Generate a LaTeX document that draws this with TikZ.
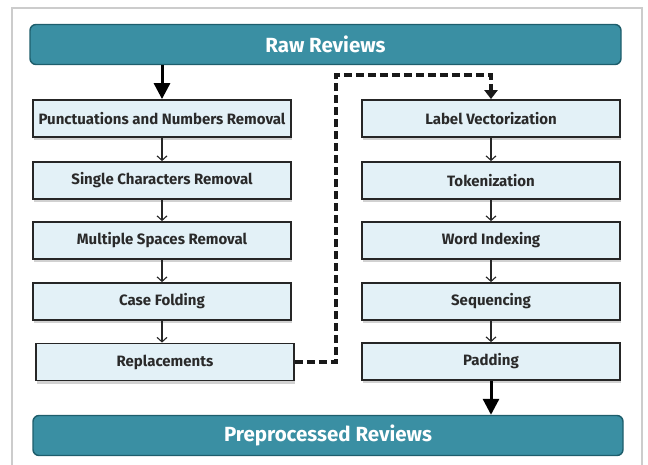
\documentclass[tikz,border=0pt]{standalone}
\usepackage{fontspec}
\setmainfont{Fira Sans}
\usetikzlibrary{arrows.meta,shadows}

\definecolor{barteal}{HTML}{3A8FA3}
\definecolor{bardark}{HTML}{1E5E6C}
\definecolor{stepfill}{HTML}{E3F1F7}
\definecolor{steptext}{HTML}{2A2A2A}

\tikzset{
  bar/.style={draw=bardark,line width=1.4pt,fill=barteal,rounded corners=6pt,
    text=white,font=\fontsize{20.5}{22}\selectfont\bfseries,
    minimum height=40pt,inner sep=0pt},
  stepbox/.style={draw=black!85,line width=1.8pt,fill=stepfill,text=steptext,
    font=\fontsize{15}{16}\selectfont\bfseries,minimum width=258pt,
    minimum height=37pt,inner sep=0pt,
    drop shadow={shadow xshift=1pt,shadow yshift=-3pt,opacity=0.3,fill=black!60}},
  flow/.style={draw=black!85,line width=1.1pt,-{Straight Barb[length=4.5pt,width=10pt]}},
  mainflow/.style={draw=black,line width=3pt,-{Triangle[length=16pt,width=16pt]}},
  handover/.style={draw=black!90,line width=3.2pt,dash pattern=on 8pt off 4pt,
    -{Triangle[length=9pt,width=13pt]}}
}

\begin{document}
\begin{tikzpicture}[x=1pt,y=-1pt]
  \useasboundingbox (0,0) rectangle (648,465);
  \draw[black!20,line width=1.5pt] (12,8) rectangle (642,480);

  % top and bottom bars
  \node[bar,minimum width=591pt] (raw) at (325.5,44.5) {Raw Reviews};
  \node[bar,minimum width=590pt] (pre) at (328,435.5) {Preprocessed Reviews};

  % cleaning steps
  \node[stepbox] (c1) at (162,118.5) {Punctuations and Numbers Removal};
  \node[stepbox] (c2) at (162,180.5) {Single Characters Removal};
  \node[stepbox] (c3) at (162,240.5) {Multiple Spaces Removal};
  \node[stepbox] (c4) at (162,301.5) {Case Folding};
  \node[stepbox] (c5) at (165,362) {Replacements};

  % encoding steps
  \node[stepbox] (e1) at (491,118.5) {Label Vectorization};
  \node[stepbox] (e2) at (491,180.5) {Tokenization};
  \node[stepbox] (e3) at (491,240.5) {Word Indexing};
  \node[stepbox] (e4) at (491,301.5) {Sequencing};
  \node[stepbox] (e5) at (491,361.5) {Padding};

  \draw[mainflow] (raw.south -| c1.north) -- (c1.north);
  \draw[mainflow] (e5.south) -- (e5.south |- pre.north);

  \foreach \a/\b in {c1/c2,c2/c3,c3/c4,e1/e2,e2/e3,e3/e4,e4/e5}
    \draw[flow] (\a.south) -- (\b.north);
  \draw[flow] (c4.south) -- (c4.south |- c5.north);

  % hand-over between the two columns
  \coordinate (bend) at (336,75);
  \draw[handover] (c5.east) -- (c5.east -| bend) -- (bend) -- (bend -| e1.north) -- (e1.north);
\end{tikzpicture}
\end{document}
